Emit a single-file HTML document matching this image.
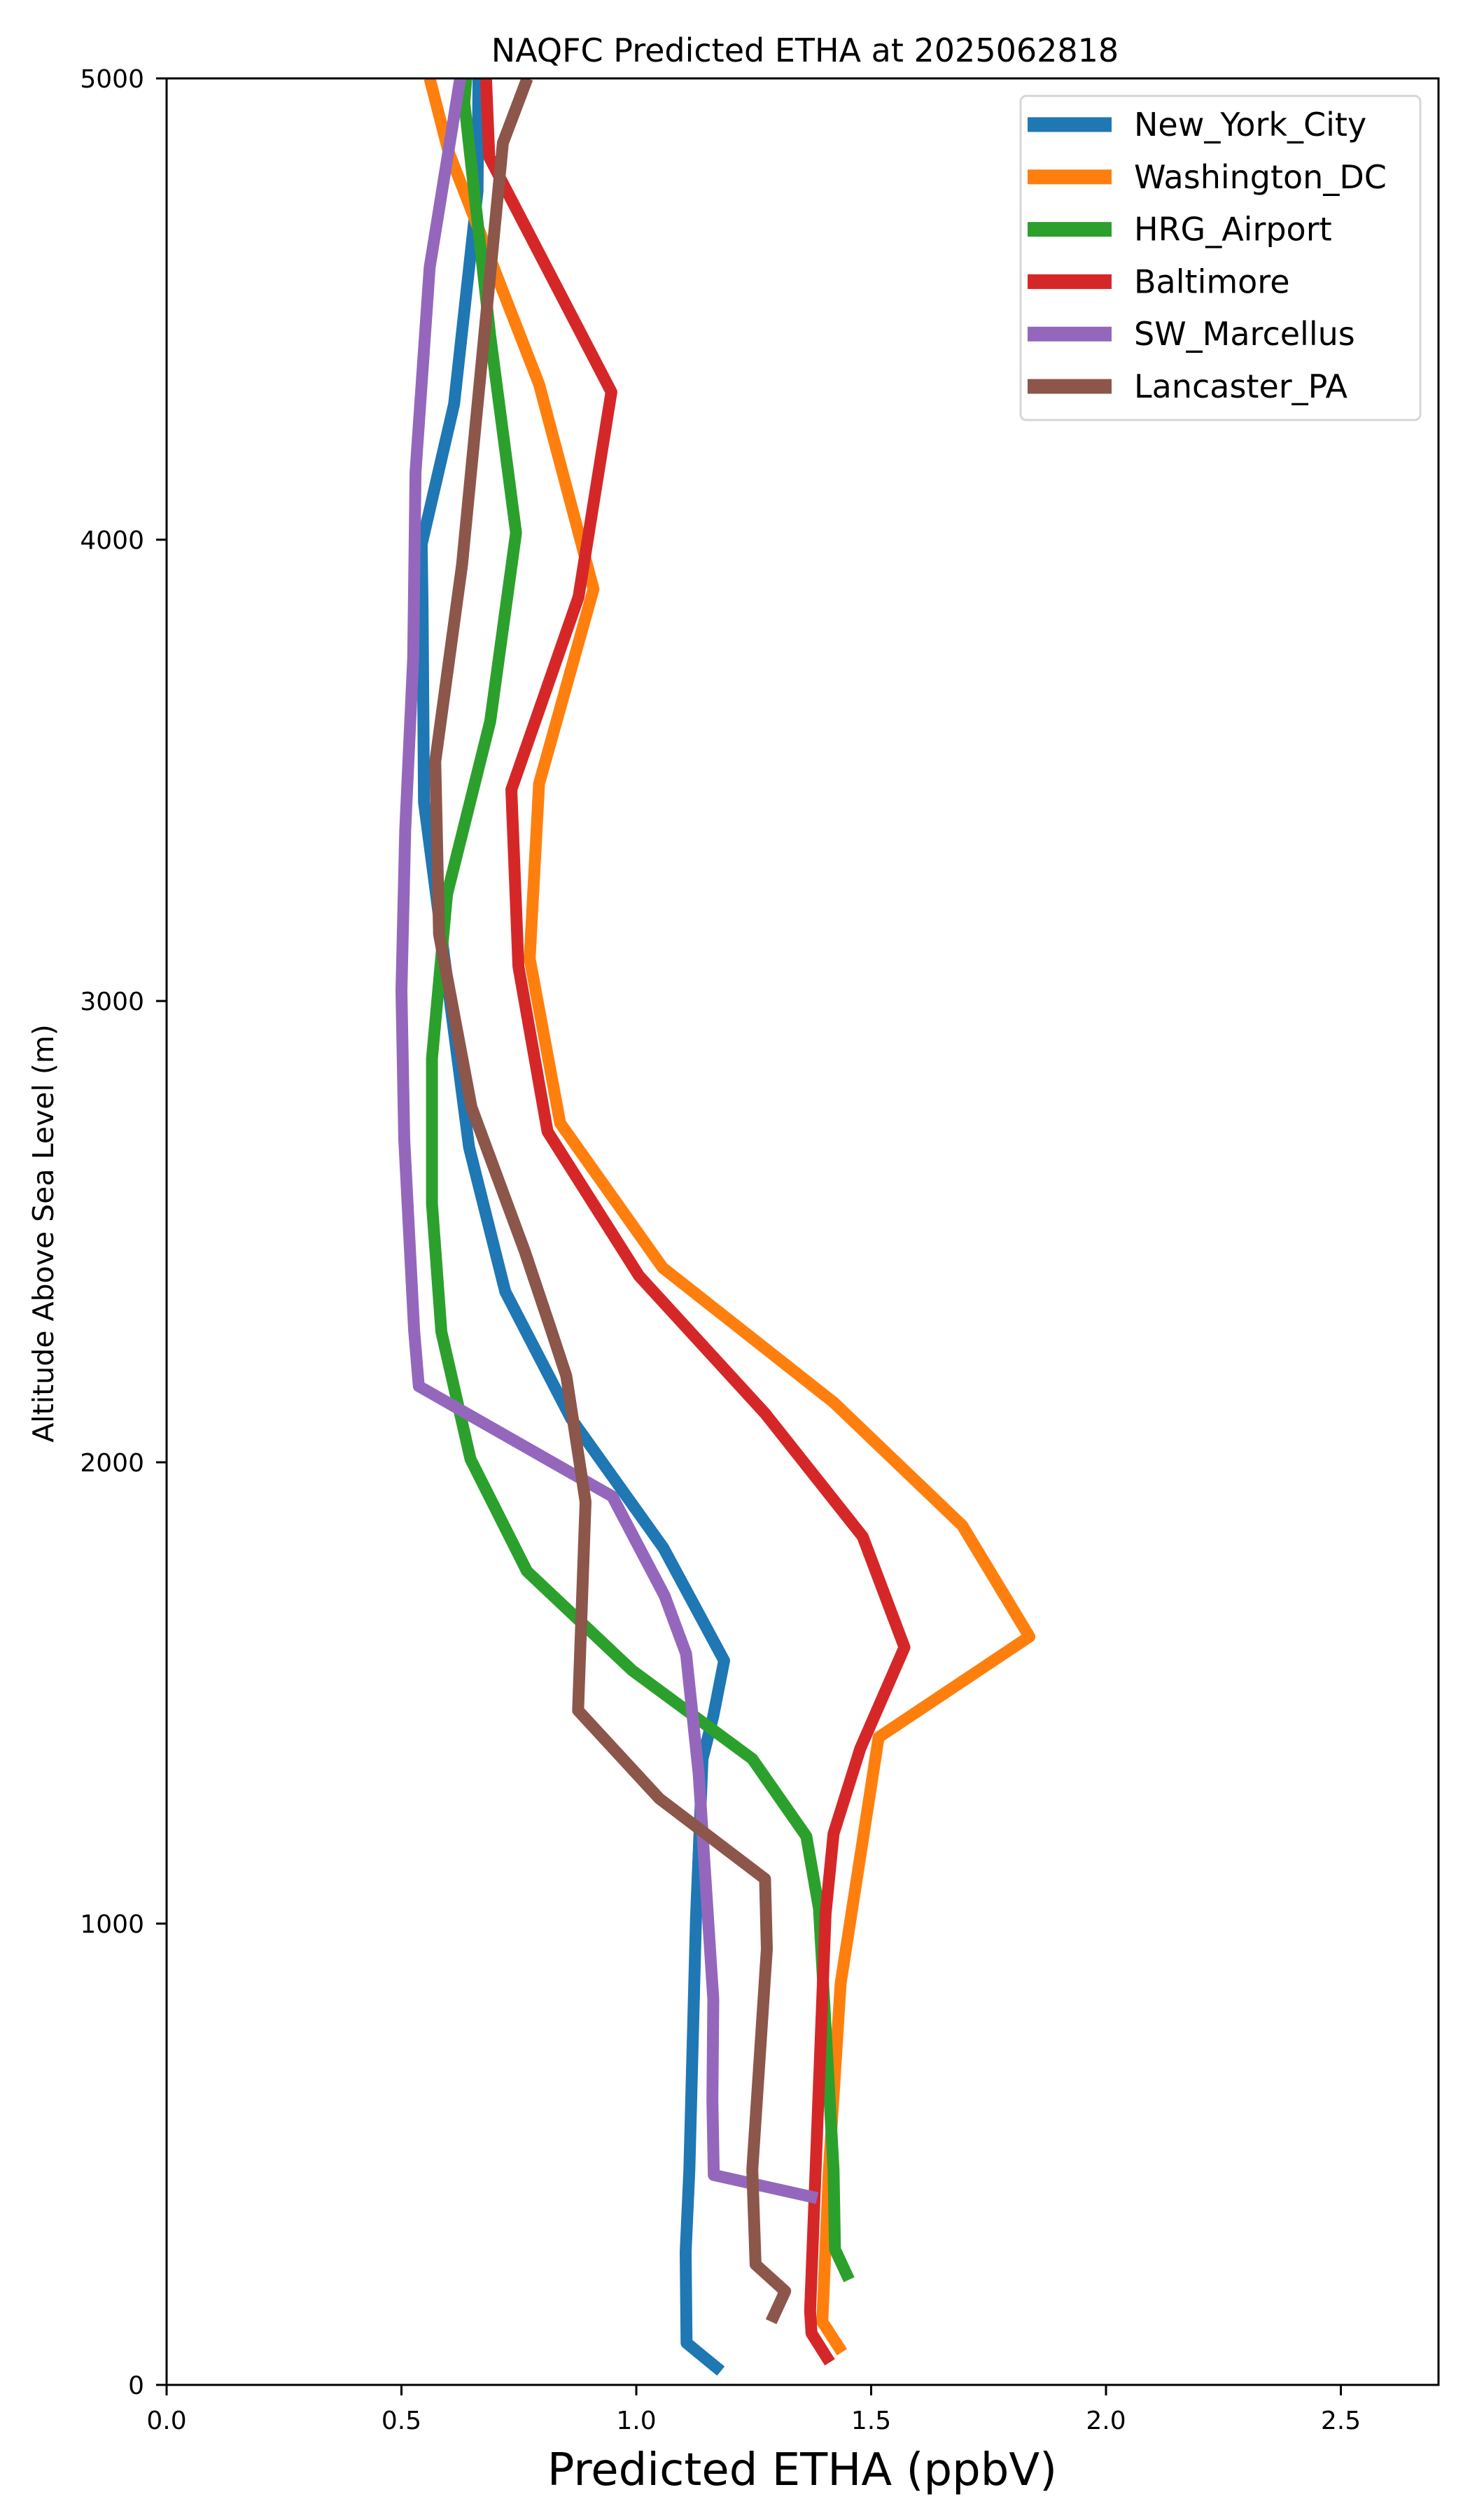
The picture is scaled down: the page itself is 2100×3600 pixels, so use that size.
<!DOCTYPE html>
<html>
<head>
<meta charset="utf-8">
<style>
html,body{margin:0;padding:0;background:#fff;}
svg{display:block;font-family:"DejaVu Sans","Liberation Sans",sans-serif;}
</style>
</head>
<body>
<svg id="chart" width="2100" height="3600" viewBox="0 0 2100 3600" xmlns="http://www.w3.org/2000/svg">
  <rect x="0" y="0" width="2100" height="3600" fill="#fff"/>
  <text x="1150" y="88" font-size="46" text-anchor="middle">NAQFC Predicted ETHA at 2025062818</text>
  <g id="series"></g>
  <g id="axes"></g>
  <text x="1146" y="3550" font-size="64" text-anchor="middle">Predicted ETHA (ppbV)</text>
  <text x="0" y="0" font-size="41" text-anchor="middle" transform="translate(76,1762) rotate(-90)">Altitude Above Sea Level (m)</text>
  <g id="legend"></g>
</svg>
<script>
const seriesNames = ["New_York_City","Washington_DC","HRG_Airport","Baltimore","SW_Marcellus","Lancaster_PA"];
const seriesColors = ["#1f77b4","#ff7f0e","#2ca02c","#d62728","#9467bd","#8c564b"];
const xTicks = [0.0,0.5,1.0,1.5,2.0,2.5];
const xTickLabels = ["0.0","0.5","1.0","1.5","2.0","2.5"];
const yTicks = [0,1000,2000,3000,4000,5000];
const yTickLabels = ["0","1000","2000","3000","4000","5000"];

const nycAlt = [30,91,288,466,1009,1357,1450,1570,1814,2095,2370,2683,3431,3850,3990,4294,4756,5000];
const nycVal = [1.18,1.107,1.105,1.113,1.127,1.141,1.164,1.187,1.058,0.861,0.721,0.644,0.548,0.545,0.543,0.612,0.662,0.664];
const dcAlt = [71,137,466,870,1404,1622,1863,2130,2422,2735,3092,3471,3893,4337,4842,5000];
const dcVal = [1.438,1.396,1.41,1.435,1.516,1.837,1.694,1.42,1.056,0.838,0.773,0.793,0.909,0.793,0.6,0.56];
const hrgAlt = [228,294,466,1032,1189,1357,1549,1764,2007,2283,2561,2875,3231,3606,4015,4442,4947,5000];
const hrgVal = [1.453,1.423,1.42,1.389,1.362,1.247,0.991,0.767,0.647,0.585,0.565,0.565,0.597,0.689,0.744,0.689,0.634,0.638];
const balAlt = [49,112,160,1021,1195,1380,1599,1839,2106,2404,2717,3075,3458,3876,4320,4829,5000];
const balVal = [1.412,1.373,1.37,1.403,1.42,1.477,1.571,1.482,1.274,1.006,0.811,0.749,0.734,0.877,0.947,0.687,0.68];
const swmAlt = [405,455,617,835,1323,1585,1711,1926,2165,2286,2700,3022,3371,3745,4146,4590,5000];
const swmVal = [1.385,1.165,1.162,1.164,1.133,1.106,1.06,0.949,0.537,0.527,0.506,0.5,0.508,0.525,0.53,0.56,0.625];
const lanAlt = [137,203,261,466,945,1097,1271,1462,1914,2187,2286,2456,2770,3145,3519,3946,4860,5000];
const lanVal = [1.287,1.317,1.254,1.247,1.278,1.274,1.049,0.876,0.892,0.851,0.819,0.763,0.649,0.58,0.572,0.629,0.716,0.768];

const allAlt = [nycAlt,dcAlt,hrgAlt,balAlt,swmAlt,lanAlt];
const allVal = [nycVal,dcVal,hrgVal,balVal,swmVal,lanVal];

const NS = "http://www.w3.org/2000/svg";
const L = 238, R = 2055, T = 112, B = 3407;
const X_MIN = 0, X_MAX = (R - L) / 671;
const Y_MIN = 0, Y_MAX = 5000;
function xScale(v){ return L + (v - X_MIN) / (X_MAX - X_MIN) * (R - L); }
function yScale(v){ return B - (v - Y_MIN) / (Y_MAX - Y_MIN) * (B - T); }
function mk(tag, attrs){ const e = document.createElementNS(NS, tag); for (const k in attrs) e.setAttribute(k, attrs[k]); return e; }

const sg = document.getElementById("series");
const clip = mk("clipPath", {id:"plotclip"});
clip.appendChild(mk("rect", {x:L, y:T, width:R-L, height:B-T}));
sg.appendChild(clip);
for (let s = 0; s < seriesNames.length; s++) {
  const pts = allAlt[s].map((a, i) => xScale(allVal[s][i]).toFixed(1) + "," + yScale(a).toFixed(1)).join(" ");
  const pl = mk("polyline", {points: pts, fill: "none", stroke: seriesColors[s], "stroke-width": 17, "stroke-linejoin": "round", "stroke-linecap": "butt", "clip-path": "url(#plotclip)"});
  
  
  sg.appendChild(pl);
}

const ag = document.getElementById("axes");
const frame = mk("rect", {x:L, y:T, width:R-L, height:B-T, fill:"none", stroke:"#000", "stroke-width":3});


ag.appendChild(frame);
for (let i = 0; i < xTicks.length; i++) {
  const x = xScale(xTicks[i]);
  const t = mk("line", {x1:x, y1:B, x2:x, y2:B+15, stroke:"#000", "stroke-width":3});
  
  
  ag.appendChild(t);
  const lb = mk("text", {x:x, y:3470, "font-size":36, "text-anchor":"middle"});
  lb.textContent = xTickLabels[i];
  
  
  ag.appendChild(lb);
}
for (let i = 0; i < yTicks.length; i++) {
  const y = yScale(yTicks[i]);
  const t = mk("line", {x1:L-15, y1:y, x2:L, y2:y, stroke:"#000", "stroke-width":3});
  
  
  ag.appendChild(t);
  const lb = mk("text", {x:206, y:y+13, "font-size":36, "text-anchor":"end"});
  lb.textContent = yTickLabels[i];
  
  
  ag.appendChild(lb);
}

const lg = document.getElementById("legend");
const box = mk("rect", {x:1458, y:137, width:571, height:463, rx:8, fill:"#fff", "fill-opacity":0.8, stroke:"#d6d6d6", "stroke-width":3});


lg.appendChild(box);
for (let s = 0; s < seriesNames.length; s++) {
  const y = 178 + s * 74.8;
  const ln = mk("line", {x1:1468, y1:y, x2:1588, y2:y, stroke:seriesColors[s], "stroke-width":21});
  
  
  lg.appendChild(ln);
  const tx = mk("text", {x:1620, y:y+16, "font-size":46});
  tx.textContent = seriesNames[s];
  
  
  lg.appendChild(tx);
}
</script>
</body>
</html>
